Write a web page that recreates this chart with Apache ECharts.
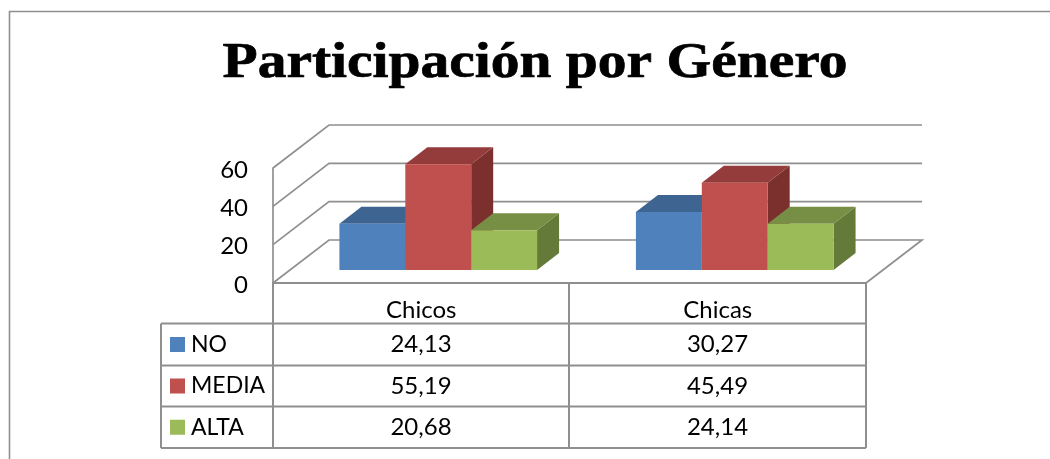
<!DOCTYPE html>
<html><head><meta charset="utf-8">
<style>html,body{margin:0;padding:0;background:#fff}#c{width:1050px;height:459px}</style>
<script src="https://cdn.jsdelivr.net/npm/echarts@6/dist/echarts.min.js"></script>
</head><body><div id="c"></div>
<script>
const titleText = 'Participación por Género';
const categories = ['Chicos', 'Chicas'];
const seriesNames = ['NO', 'MEDIA', 'ALTA'];
const valuesNO = [24.13, 30.27];
const valuesMEDIA = [55.19, 45.49];
const valuesALTA = [20.68, 24.14];
const valueTicks = [0, 20, 40, 60];
const colors = ['#4f81bd', '#c0504d', '#9bbb59'];
const topColors = ['#3e6491', '#933c3b', '#778f45'];
const sideColors = ['#2f4d70', '#7c302e', '#647a39'];
const allValues = [valuesNO, valuesMEDIA, valuesALTA];

const LINE = '#8f8f8f';
const FONT = 'Lato';
const FS = 24;
// Projection of the 3D box, in pixels
const WALL = [56, -43];   // front plane to back wall
const BASE = [17, -13];   // front plane to the bars' front faces
const DEPTH = [22, -17];  // bar depth
const TBL = {x: [161, 273, 569, 866], y: [283, 323.5, 365.5, 406.5, 448]};

const chart = echarts.init(document.getElementById('c'), null, {renderer: 'canvas'});

function wallSeries() {
  return {
    type: 'custom', silent: true, z: 1,
    coordinateSystem: 'cartesian2d',
    data: valueTicks.map(v => [0, v]),
    encode: {x: 0, y: 1},
    renderItem(p, api) {
      const v = api.value(1);
      const bw = api.size([1, 0])[0];
      const left = api.coord([0, v])[0] - bw / 2;
      const y = api.coord([0, v])[1];
      const right = left + bw * categories.length;
      const pts = [[left, y], [left + WALL[0], y + WALL[1]], [right + WALL[0], y + WALL[1]]];
      if (v === 0) pts.push([right, y]);
      return {type: 'polyline', shape: {points: pts},
        style: {stroke: LINE, lineWidth: 1.7, fill: null}};
    }
  };
}

function barSeries(idx) {
  return {
    type: 'custom', name: seriesNames[idx], z: 2 + idx,
    coordinateSystem: 'cartesian2d',
    data: allValues[idx].map((v, i) => [i, v]),
    encode: {x: 0, y: 1},
    renderItem(p, api) {
      const band = api.size([1, 0])[0];
      const w = band / 4.5;
      const c = api.coord([api.value(0), api.value(1)]);
      const z = api.coord([api.value(0), 0]);
      const x0 = c[0] + BASE[0] + (idx - 1.5) * w;
      const x1 = x0 + w;
      const yT = c[1] + BASE[1];
      const yB = z[1] + BASE[1];
      const dx = DEPTH[0], dy = DEPTH[1];
      return {type: 'group', children: [
        {type: 'polygon', shape: {points: [[x1, yT], [x1 + dx, yT + dy], [x1 + dx, yB + dy], [x1, yB]]}, style: {fill: sideColors[idx]}},
        {type: 'polygon', shape: {points: [[x0, yT], [x0 + dx, yT + dy], [x1 + dx, yT + dy], [x1, yT]]}, style: {fill: topColors[idx]}},
        {type: 'rect', shape: {x: x0, y: yT, width: w, height: yB - yT}, style: {fill: colors[idx]}}
      ]};
    }
  };
}

function tableGraphics() {
  const g = [];
  const line = (x1, y1, x2, y2) => g.push({type: 'line', z: 5, shape: {x1, y1, x2, y2},
    style: {stroke: LINE, lineWidth: 2}});
  const X = TBL.x, Y = TBL.y;
  line(X[0], Y[1], X[3], Y[1]);
  line(X[0], Y[2], X[3], Y[2]);
  line(X[0], Y[3], X[3], Y[3]);
  line(X[0], Y[4], X[3], Y[4]);
  line(X[0], Y[1], X[0], Y[4]);
  line(X[1], Y[0], X[1], Y[4]);
  line(X[2], Y[0], X[2], Y[4]);
  line(X[3], Y[0], X[3], Y[4]);
  seriesNames.forEach((n, i) => {
    const cy = (Y[i + 1] + Y[i + 2]) / 2;
    g.push({type: 'rect', z: 6, shape: {x: 170, y: cy - 7.5, width: 15, height: 15}, style: {fill: colors[i]}});
    g.push({type: 'text', z: 6, x: 191, y: cy, style: {text: n, font: '23px ' + FONT, fill: '#000', textAlign: 'left', textVerticalAlign: 'middle'}});
    categories.forEach((cat, j) => {
      g.push({type: 'text', z: 6, x: (X[j + 1] + X[j + 2]) / 2, y: cy,
        style: {text: String(allValues[i][j]).replace('.', ','), font: FS + 'px ' + FONT, fill: '#000', textAlign: 'center', textVerticalAlign: 'middle'}});
    });
  });
  // chart frame
  g.push({type: 'polyline', z: 0, shape: {points: [[9.5, 470], [9.5, 11.5], [1060, 11.5]]},
    style: {stroke: LINE, lineWidth: 1.6, fill: null}});
  // title, stretched to the width of the original wide bold serif
  g.push({type: 'text', z: 6, x: 535, y: 64, scaleX: 1.15,
    style: {text: titleText, font: 'bold 50px "Liberation Serif"', fill: '#000', stroke: '#000', lineWidth: 0.7, textAlign: 'center', textVerticalAlign: 'middle'}});
  return g;
}

chart.setOption({
  animation: false,
  backgroundColor: '#fff',
  grid: {left: 273, top: 168, width: 593, height: 115, containLabel: false},
  xAxis: {type: 'category', data: categories, boundaryGap: true,
    axisLine: {show: true, lineStyle: {color: LINE, width: 2}},
    axisTick: {show: false}, splitLine: {show: false},
    axisLabel: {color: '#000', fontFamily: FONT, fontSize: FS, margin: 15}},
  yAxis: {type: 'value', min: 0, max: 60, interval: 20,
    axisLine: {show: true, lineStyle: {color: LINE, width: 1.7}},
    axisTick: {show: false}, splitLine: {show: false},
    axisLabel: {color: '#000', margin: 25, formatter: '{a|{value}}',
      rich: {a: {color: '#000', fontFamily: FONT, fontSize: FS, padding: [4, 0, 0, 0]}}}},
  tooltip: {show: false},
  series: [wallSeries(), barSeries(0), barSeries(1), barSeries(2)],
  graphic: tableGraphics()
});
</script></body></html>
